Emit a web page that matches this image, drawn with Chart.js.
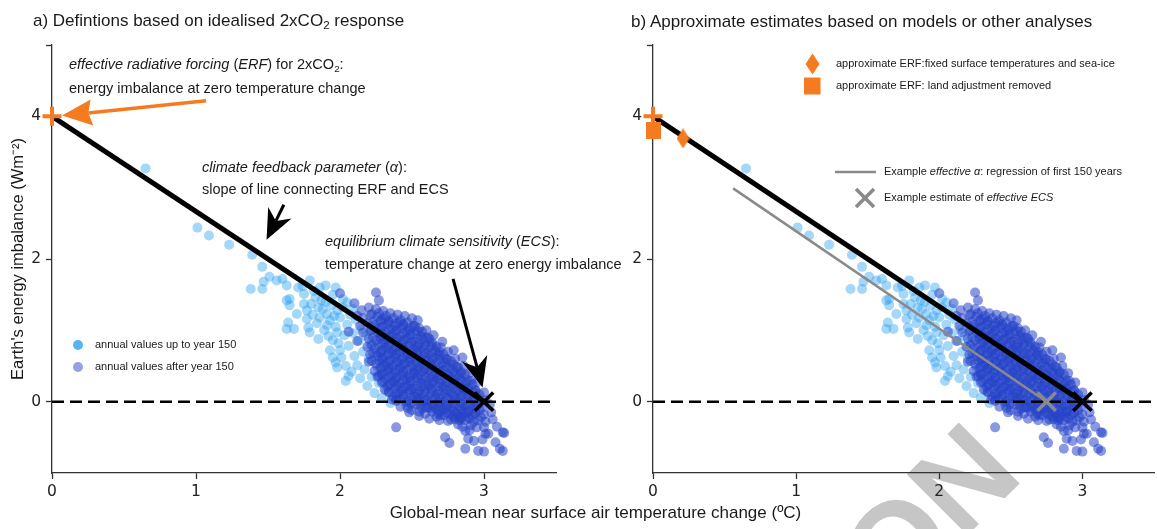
<!DOCTYPE html>
<html><head><meta charset="utf-8">
<script src="https://cdn.jsdelivr.net/npm/chart.js@4.4.1/dist/chart.umd.min.js"></script>
<style>
html,body{margin:0;padding:0;background:#fff;}
#wrap{position:relative;width:1157px;height:529px;overflow:hidden;font-family:"Liberation Sans",Arial,sans-serif;color:#1a1a1a;}
canvas{position:absolute;top:0;}
#ca{left:0;} #cb{left:578px;}
.t{position:absolute;white-space:nowrap;line-height:1;}
.ttl{font-size:17px;}
.an{font-size:14.5px;}
.lg{font-size:11px;}
sub{font-size:68%;vertical-align:-0.3em;line-height:0;}
.wm{position:absolute;white-space:nowrap;font-weight:bold;font-size:125px;color:#c6c6c6;line-height:1;transform-origin:0 0;}
.dot{position:absolute;width:10px;height:10px;border-radius:50%;}
</style></head>
<body><div id="wrap">
<div class="wm" id="wm1">ACCEPTED VERSION</div>
<canvas id="ca" width="580" height="529"></canvas>
<canvas id="cb" width="600" height="529"></canvas>

<div class="t ttl" style="left:33px;top:12px">a) Defintions based on idealised 2xCO<sub>2</sub> response</div>
<div class="t ttl" style="left:631px;top:13px">b) Approximate estimates based on models or other analyses</div>

<div class="t an" style="left:69px;top:57px"><i>effective radiative forcing</i> (<i>ERF</i>) for 2xCO<sub>2</sub>:</div>
<div class="t an" style="left:69px;top:81px">energy imbalance at zero temperature change</div>
<div class="t an" style="left:202px;top:160px"><i>climate feedback parameter</i> (<i>α</i>):</div>
<div class="t an" style="left:202px;top:182px">slope of line connecting ERF and ECS</div>
<div class="t an" style="left:325px;top:234px"><i>equilibrium climate sensitivity</i> (<i>ECS</i>):</div>
<div class="t an" style="left:325px;top:257px">temperature change at zero energy imbalance</div>

<div class="dot" style="left:73px;top:340px;background:#55b5f1"></div>
<div class="t lg" style="left:95px;top:339px">annual values up to year 150</div>
<div class="dot" style="left:73px;top:362px;background:#97a1e4"></div>
<div class="t lg" style="left:95px;top:361px">annual values after year 150</div>

<svg style="position:absolute;left:800px;top:50px" width="30" height="50">
<polygon points="12.5,3.5 19.5,14 12.5,24.5 5.5,14" fill="#f47b20"/>
<rect x="4" y="27.5" width="16.5" height="17" fill="#f47b20"/>
</svg>
<div class="t lg" style="left:836px;top:58px">approximate ERF:fixed surface temperatures and sea-ice</div>
<div class="t lg" style="left:836px;top:80px">approximate ERF: land adjustment removed</div>

<svg style="position:absolute;left:830px;top:160px" width="50" height="50">
<line x1="5" y1="12" x2="46" y2="12" stroke="#8a8a8a" stroke-width="2.5"/>
<line x1="26" y1="29" x2="44" y2="47" stroke="#8a8a8a" stroke-width="3.5"/>
<line x1="44" y1="29" x2="26" y2="47" stroke="#8a8a8a" stroke-width="3.5"/>
</svg>
<div class="t lg" style="left:884px;top:166px">Example <i>effective α</i>: regression of first 150 years</div>
<div class="t lg" style="left:884px;top:192px">Example estimate of <i>effective ECS</i></div>

<div class="t" style="left:0;width:1191px;text-align:center;top:504px;font-size:17px">Global-mean near surface air temperature change (ºC)</div>
</div>
<script>
// ---------------- data ----------------
const xTicks = [0, 1, 2, 3];
const yTicks = [0, 2, 4, 5];
const erfValue = 4.0;          // ERF for 2xCO2 (W m-2)
const ecsValue = 3.0;          // ECS (degC)
const erfFixedSST = [0.21, 3.69];    // diamond
const erfLandRemoved = [0.0, 3.80];  // square
const effAlphaStart = [0.56, 2.99];  // regression line of first 150 years
const effEcsValue = 2.75;            // effective ECS
const upTo150 = [
[0.65,3.27],[1.01,2.44],[1.09,2.33],[1.23,2.20],[1.39,2.06],
[1.46,1.89],[1.47,1.68],[1.46,1.58],[1.38,1.58],[1.51,1.75],[1.56,1.70],[1.60,1.72],[1.63,1.63],
[1.79,1.70],[1.90,1.63],[1.75,1.51],[1.63,1.42],[1.65,1.44],[1.65,1.35],[1.70,1.23],[1.64,1.11],[1.63,1.02],[1.68,1.02],
[1.75,1.37],[1.77,1.28],[1.80,1.37],[1.83,1.46],[1.77,1.16],[1.78,1.04],[1.79,0.97],[1.85,1.32],[1.87,1.42],[1.86,1.18],
[1.85,0.88],[1.91,1.23],[1.91,1.07],[1.93,1.14],[1.98,1.28],[1.95,0.86],[1.98,0.97],[2.00,0.72],[1.93,0.72],
[1.71,1.60],[1.74,1.62],[1.82,1.55],[1.86,1.60],[1.95,1.50],[1.97,1.60],[2.02,1.44],[2.05,1.39],
[1.88,1.30],[1.89,1.00],[1.92,0.92],[1.94,1.35],[1.96,1.20],[1.97,1.05],[1.99,0.82],[2.00,1.18],[2.01,0.62],[2.02,1.32],
[2.03,0.93],[2.04,0.29],[2.04,0.50],[2.05,1.08],[2.06,0.78],[2.07,1.22],[2.08,0.42],[2.09,0.96],[2.10,0.64],[2.11,1.15],
[2.12,0.51],[2.13,0.85],[2.14,0.33],[2.15,1.02],[2.16,0.70],[2.17,0.45],[2.18,0.92],[2.19,0.22],[2.20,0.60],[2.21,0.80],
[2.22,0.35],[2.23,1.05],[2.24,0.12],[2.25,0.68],[2.26,0.48],[2.27,0.26],[2.28,0.88],[2.29,0.05],[2.30,0.58],[2.31,0.38],
[2.32,0.16],[2.34,0.72],[2.35,-0.02],[2.36,0.46],[2.38,0.27],[2.40,0.08],[2.42,0.56],[2.44,0.34],[2.46,-0.05],[2.48,0.18],
[2.52,0.44],[2.55,0.04],[1.97,0.55],[1.95,0.62],[1.98,0.48],[2.06,0.36],[1.84,1.10],[1.90,1.40],[1.81,1.22],[2.09,1.30]
];
const after150 = [
[2.00,1.52],[2.10,1.38],[2.06,0.98],[2.12,1.20],[2.12,0.85],
[2.15,1.28],[2.16,1.17],[2.14,1.06],[2.16,0.97],
[2.20,1.32],[2.21,1.21],[2.19,1.10],[2.21,0.99],[2.20,0.88],[2.19,0.77],[2.21,0.66],[2.20,0.56],
[2.25,1.53],[2.27,1.42],[2.25,1.30],[2.26,1.19],[2.24,1.08],[2.26,0.97],[2.25,0.86],[2.24,0.75],[2.26,0.64],[2.25,0.53],[2.24,0.43],[2.26,0.35],
[2.30,1.27],[2.31,1.16],[2.29,1.05],[2.30,0.94],[2.31,0.83],[2.29,0.72],[2.30,0.61],[2.31,0.50],[2.29,0.39],[2.30,0.28],[2.31,0.17],
[2.35,1.24],[2.34,1.13],[2.36,1.02],[2.35,0.91],[2.34,0.80],[2.36,0.69],[2.35,0.58],[2.34,0.47],[2.36,0.36],[2.35,0.25],[2.34,0.14],[2.36,0.03],
[2.40,1.22],[2.41,1.11],[2.39,1.00],[2.40,0.89],[2.41,0.78],[2.39,0.67],[2.40,0.56],[2.41,0.45],[2.39,0.34],[2.40,0.23],[2.41,0.12],[2.39,0.01],[2.42,-0.07],[2.39,-0.36],
[2.45,1.20],[2.44,1.09],[2.46,0.98],[2.45,0.87],[2.44,0.76],[2.46,0.65],[2.45,0.54],[2.44,0.43],[2.46,0.32],[2.45,0.21],[2.44,0.10],[2.46,-0.01],[2.47,-0.09],
[2.50,1.17],[2.51,1.06],[2.49,0.95],[2.50,0.84],[2.51,0.73],[2.49,0.62],[2.50,0.51],[2.51,0.40],[2.49,0.29],[2.50,0.18],[2.51,0.07],[2.49,-0.03],[2.50,-0.12],[2.48,-0.15],
[2.54,1.14],[2.55,1.03],[2.56,0.92],[2.55,0.81],[2.54,0.70],[2.56,0.59],[2.55,0.48],[2.54,0.37],[2.56,0.26],[2.55,0.15],[2.54,0.04],[2.56,-0.06],[2.55,-0.14],[2.55,-0.20],
[2.60,1.00],[2.61,0.90],[2.59,0.79],[2.60,0.68],[2.61,0.57],[2.59,0.46],[2.60,0.35],[2.61,0.24],[2.59,0.13],[2.60,0.02],[2.61,-0.08],[2.59,-0.17],[2.62,-0.24],
[2.65,0.93],[2.64,0.83],[2.66,0.72],[2.65,0.61],[2.64,0.50],[2.66,0.39],[2.65,0.28],[2.64,0.17],[2.66,0.06],[2.65,-0.05],[2.64,-0.14],[2.67,-0.21],
[2.71,0.84],[2.70,0.76],[2.69,0.65],[2.71,0.54],[2.70,0.43],[2.69,0.32],[2.71,0.21],[2.70,0.10],[2.69,-0.01],[2.71,-0.11],[2.70,-0.19],[2.69,-0.26],
[2.75,0.70],[2.74,0.59],[2.76,0.48],[2.75,0.37],[2.74,0.26],[2.76,0.15],[2.75,0.04],[2.74,-0.07],[2.76,-0.17],[2.75,-0.27],[2.73,-0.50],[2.76,-0.58],
[2.79,0.72],[2.80,0.60],[2.81,0.49],[2.80,0.38],[2.79,0.27],[2.81,0.16],[2.80,0.05],[2.79,-0.06],[2.81,-0.16],[2.80,-0.25],[2.82,-0.32],
[2.85,0.62],[2.86,0.50],[2.84,0.40],[2.85,0.29],[2.86,0.18],[2.84,0.07],[2.85,-0.04],[2.86,-0.14],[2.84,-0.24],[2.85,-0.35],[2.87,-0.41],[2.87,-0.66],[2.83,-0.22],
[2.90,0.40],[2.91,0.29],[2.89,0.18],[2.90,0.07],[2.91,-0.04],[2.89,-0.14],[2.90,-0.24],[2.91,-0.33],[2.90,-0.40],[2.89,-0.52],
[2.95,0.27],[2.94,0.16],[2.96,0.05],[2.95,-0.06],[2.94,-0.16],[2.96,-0.26],[2.95,-0.36],[2.93,-0.55],[2.96,-0.69],
[3.00,0.13],[3.01,0.02],[2.99,-0.08],[3.00,-0.18],[3.01,-0.28],[3.00,-0.36],[3.01,-0.45],[2.99,-0.53],[3.00,-0.70],
[3.04,-0.04],[3.05,-0.15],[3.06,-0.25],[3.03,-0.45],[3.08,-0.57],
[3.13,-0.43],[3.11,-0.66],[3.09,-0.35],[3.14,-0.44],[3.13,-0.69],
[2.22,1.23],[2.23,1.12],[2.22,1.01],[2.23,0.90],[2.22,0.79],[2.23,0.68],[2.22,0.57],
[2.27,1.24],[2.28,1.13],[2.27,1.02],[2.28,0.91],[2.27,0.80],[2.28,0.69],[2.27,0.58],[2.28,0.47],[2.27,0.36],
[2.32,1.20],[2.33,1.09],[2.32,0.98],[2.33,0.87],[2.32,0.76],[2.33,0.65],[2.32,0.54],[2.33,0.43],[2.32,0.32],[2.33,0.21],
[2.37,1.17],[2.38,1.06],[2.37,0.95],[2.38,0.84],[2.37,0.73],[2.38,0.62],[2.37,0.51],[2.38,0.40],[2.37,0.29],[2.38,0.18],[2.37,0.07],
[2.42,1.14],[2.43,1.03],[2.42,0.92],[2.43,0.81],[2.42,0.70],[2.43,0.59],[2.42,0.48],[2.43,0.37],[2.42,0.26],[2.43,0.15],[2.42,0.04],
[2.47,1.11],[2.48,1.00],[2.47,0.89],[2.48,0.78],[2.47,0.67],[2.48,0.56],[2.47,0.45],[2.48,0.34],[2.47,0.23],[2.48,0.12],[2.47,0.01],
[2.52,1.06],[2.53,0.95],[2.52,0.84],[2.53,0.73],[2.52,0.62],[2.53,0.51],[2.52,0.40],[2.53,0.29],[2.52,0.18],[2.53,0.07],[2.52,-0.04],
[2.57,0.98],[2.58,0.87],[2.57,0.76],[2.58,0.65],[2.57,0.54],[2.58,0.43],[2.57,0.32],[2.58,0.21],[2.57,0.10],[2.58,-0.01],[2.57,-0.10],
[2.62,0.88],[2.63,0.77],[2.62,0.66],[2.63,0.55],[2.62,0.44],[2.63,0.33],[2.62,0.22],[2.63,0.11],[2.62,0.00],[2.63,-0.10],
[2.67,0.77],[2.68,0.66],[2.67,0.55],[2.68,0.44],[2.67,0.33],[2.68,0.22],[2.67,0.11],[2.68,0.00],[2.67,-0.10],[2.68,-0.17],
[2.72,0.66],[2.73,0.55],[2.72,0.44],[2.73,0.33],[2.72,0.22],[2.73,0.11],[2.72,0.00],[2.73,-0.10],[2.72,-0.19],
[2.77,0.57],[2.78,0.46],[2.77,0.35],[2.78,0.24],[2.77,0.13],[2.78,0.02],[2.77,-0.09],[2.78,-0.19],[2.77,-0.25],
[2.82,0.48],[2.83,0.37],[2.82,0.26],[2.83,0.15],[2.82,0.04],[2.83,-0.07],[2.82,-0.17],[2.83,-0.26],
[2.87,0.38],[2.88,0.27],[2.87,0.16],[2.88,0.05],[2.87,-0.06],[2.88,-0.16],[2.87,-0.26],
[2.92,0.24],[2.93,0.13],[2.92,0.02],[2.93,-0.09],[2.92,-0.19],[2.93,-0.28],
[2.97,0.10],[2.98,-0.01],[2.97,-0.12],[2.98,-0.22],
[2.29,1.15],[2.29,1.04],[2.29,0.93],[2.29,0.82],[2.29,0.71],[2.29,0.60],[2.29,0.49],[2.29,0.38],[2.29,0.27],
[2.34,1.12],[2.34,1.01],[2.34,0.90],[2.34,0.79],[2.34,0.68],[2.34,0.57],[2.34,0.46],[2.34,0.35],[2.34,0.24],[2.34,0.13],
[2.39,1.10],[2.39,0.99],[2.39,0.88],[2.39,0.77],[2.39,0.66],[2.39,0.55],[2.39,0.44],[2.39,0.33],[2.39,0.22],[2.39,0.11],[2.39,0.03],
[2.44,1.07],[2.44,0.96],[2.44,0.85],[2.44,0.74],[2.44,0.63],[2.44,0.52],[2.44,0.41],[2.44,0.30],[2.44,0.19],[2.44,0.08],
[2.49,1.04],[2.49,0.93],[2.49,0.82],[2.49,0.71],[2.49,0.60],[2.49,0.49],[2.49,0.38],[2.49,0.27],[2.49,0.16],[2.49,0.05],
[2.54,0.99],[2.54,0.88],[2.54,0.77],[2.54,0.66],[2.54,0.55],[2.54,0.44],[2.54,0.33],[2.54,0.22],[2.54,0.11],[2.54,0.00],
[2.59,0.90],[2.59,0.79],[2.59,0.68],[2.59,0.57],[2.59,0.46],[2.59,0.35],[2.59,0.24],[2.59,0.13],[2.59,0.02],[2.59,-0.08],
[2.64,0.80],[2.64,0.69],[2.64,0.58],[2.64,0.47],[2.64,0.36],[2.64,0.25],[2.64,0.14],[2.64,0.03],[2.64,-0.07],
[2.69,0.70],[2.69,0.59],[2.69,0.48],[2.69,0.37],[2.69,0.26],[2.69,0.15],[2.69,0.04],[2.69,-0.06],[2.69,-0.14],
[2.74,0.60],[2.74,0.49],[2.74,0.38],[2.74,0.27],[2.74,0.16],[2.74,0.05],[2.74,-0.05],[2.74,-0.15],
[2.79,0.52],[2.79,0.41],[2.79,0.30],[2.79,0.19],[2.79,0.08],[2.79,-0.03],[2.79,-0.13],[2.79,-0.21],
[2.84,0.42],[2.84,0.31],[2.84,0.20],[2.84,0.09],[2.84,-0.02],[2.84,-0.12],[2.84,-0.21],
[2.89,0.30],[2.89,0.19],[2.89,0.08],[2.89,-0.03],[2.89,-0.13],[2.89,-0.22],
[2.94,0.16],[2.94,0.05],[2.94,-0.06],[2.94,-0.16]
];
// annotation arrows (data coordinates: tail -> tip)
const arrowsA = [
  {from:[1.07,4.22], to:[0.07,4.01], color:'#f47b20', lw:3.5, hl:30, hw:13, notch:0.12},
  {from:[1.61,2.76], to:[1.49,2.27], color:'#000', lw:3, hl:30, hw:13, notch:0.3},
  {from:[2.785,1.72], to:[2.99,0.20], color:'#000', lw:3, hl:30, hw:13, notch:0.3}
];
// ---------------- drawing ----------------
const ORANGE = '#f47b20';
const toXY = a => a.map(p => ({x:p[0], y:p[1]}));

function shapeCanvas(w, h, kind){
  const c = document.createElement('canvas'); c.width = w; c.height = h;
  const g = c.getContext('2d'); g.fillStyle = ORANGE;
  if (kind === 'diamond'){ g.beginPath(); g.moveTo(w/2,0); g.lineTo(w,h/2); g.lineTo(w/2,h); g.lineTo(0,h/2); g.closePath(); g.fill(); }
  else g.fillRect(0,0,w,h);
  return c;
}

function drawArrow(ctx, x1, y1, x2, y2, a){
  const ang = Math.atan2(y2-y1, x2-x1), ux = Math.cos(ang), uy = Math.sin(ang);
  const px = -uy, py = ux;
  const bx = x2 - ux*a.hl, by = y2 - uy*a.hl;
  const nx = x2 - ux*a.hl*(1-a.notch), ny = y2 - uy*a.hl*(1-a.notch);
  ctx.save(); ctx.strokeStyle = a.color; ctx.fillStyle = a.color; ctx.lineWidth = a.lw; ctx.lineCap='butt';
  ctx.beginPath(); ctx.moveTo(x1,y1); ctx.lineTo(nx,ny); ctx.stroke();
  ctx.beginPath(); ctx.moveTo(x2,y2); ctx.lineTo(bx+px*a.hw, by+py*a.hw); ctx.lineTo(nx,ny);
  ctx.lineTo(bx-px*a.hw, by-py*a.hw); ctx.closePath(); ctx.fill();
  ctx.restore();
}

const arrowPlugin = {
  id:'arrows',
  afterDatasetsDraw(chart, args, opts){
    if (!opts.list) return;
    const {ctx, scales:{x, y}} = chart;
    opts.list.forEach(a => drawArrow(ctx, x.getPixelForValue(a.from[0]), y.getPixelForValue(a.from[1]),
      x.getPixelForValue(a.to[0]), y.getPixelForValue(a.to[1]), a));
  }
};

function makePanel(id, panelB){
  const datasets = [
    {label:'after year 150', data:toXY(after150), backgroundColor:'rgba(38,68,200,0.55)', borderWidth:0, pointRadius:5, order:5},
    {label:'up to year 150', data:toXY(upTo150), backgroundColor:'rgba(40,160,240,0.42)', borderWidth:0, pointRadius:5, order:6},
    {label:'zero', data:[{x:0,y:0},{x:3.5,y:0}], showLine:true, borderColor:'#000', borderWidth:2.5, borderDash:[12,6], pointRadius:0, order:3, clip:false},
    {label:'ERF-ECS', data:[{x:0,y:erfValue},{x:ecsValue,y:0}], showLine:true, borderColor:'#000', borderWidth:5, pointRadius:0, order:2, clip:false},
    {label:'ECS', data:[{x:ecsValue,y:0}], pointStyle:'crossRot', pointRadius:13, borderColor:'#000', borderWidth:3.5, order:1, clip:false},
    {label:'ERF', data:[{x:0,y:erfValue}], pointStyle:'cross', pointRadius:9.5, borderColor:ORANGE, borderWidth:4, order:0, clip:false}
  ];
  if (panelB){
    datasets.push(
      {label:'eff alpha', data:[{x:effAlphaStart[0],y:effAlphaStart[1]},{x:effEcsValue,y:0}], showLine:true, borderColor:'#8a8a8a', borderWidth:2.5, pointRadius:0, order:2.5},
      {label:'eff ECS', data:[{x:effEcsValue,y:0}], pointStyle:'crossRot', pointRadius:13, borderColor:'#8a8a8a', borderWidth:3.5, order:1.5, clip:false},
      {label:'ERF fixed SST', data:[{x:erfFixedSST[0],y:erfFixedSST[1]}], pointStyle:shapeCanvas(13,20,'diamond'), pointRadius:10, order:0, clip:false},
      {label:'ERF land removed', data:[{x:erfLandRemoved[0],y:erfLandRemoved[1]}], pointStyle:shapeCanvas(15,17,'square'), pointRadius:9, order:0.5, clip:false}
    );
  }
  const axisCommon = {
    grid:{drawOnChartArea:false, tickLength:6, tickColor:'#333', tickWidth:1.3},
    border:{color:'#333', width:1.3},
  };
  return new Chart(document.getElementById(id), {
    type:'scatter',
    data:{datasets},
    options:{
      responsive:false, animation:false, devicePixelRatio:1,
      layout:{padding:{left:0, top:45, right:24, bottom:0}},
      plugins:{legend:{display:false}, tooltip:{enabled:false}, arrows:{list: panelB ? null : arrowsA}},
      scales:{
        x:{type:'linear', min:0, max:3.5, ...axisCommon,
           afterBuildTicks:s => { s.ticks = xTicks.map(v => ({value:v})); },
           afterFit:s => { s.height = 56; },
           ticks:{font:{family:'DejaVu Sans', size:15.5}, color:'#222', padding:4, maxRotation:0}},
        y:{type:'linear', min:-1, max:5, ...axisCommon,
           afterBuildTicks:s => { s.ticks = yTicks.map(v => ({value:v})); },
           afterFit:s => { s.width = panelB ? 75 : 52; },
           ticks:{font:{family:'DejaVu Sans', size:15.5}, color:'#222', padding:5, callback:v => v === 5 ? '' : String(v)},
           title:{display:!panelB, text:"Earth's energy imbalance (Wm⁻²)", font:{family:'Liberation Sans', size:16.5}, color:'#1a1a1a', padding:{top:9, bottom:0}}}
      }
    },
    plugins:[arrowPlugin]
  });
}
makePanel('ca', false);
makePanel('cb', true);

// watermark placement (baseline start of "ON" lands near lower right)
const wm = document.getElementById('wm1');
const ctxm = document.createElement('canvas').getContext('2d');
ctxm.font = 'bold 125px "Liberation Sans"';
const pre = ctxm.measureText('ACCEPTED VERSI').width;
const asc = 125 * 0.905;
const ox = 898 - pre*Math.SQRT1_2, oy = 615 + pre*Math.SQRT1_2;
wm.style.left = (ox - asc*Math.SQRT1_2) + 'px';
wm.style.top = (oy - asc*Math.SQRT1_2) + 'px';
wm.style.transform = 'rotate(-45deg)';
</script>
</body></html>
